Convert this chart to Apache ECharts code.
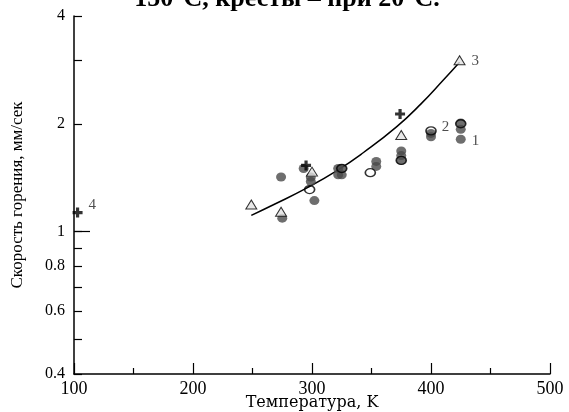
<!DOCTYPE html>
<html>
<head>
<meta charset="utf-8">
<script src="https://cdn.jsdelivr.net/npm/echarts@6/dist/echarts.min.js"></script>
<style>html,body{margin:0;padding:0;background:#fff}#c{width:569px;height:412px}</style>
</head>
<body>
<div id="c"></div>
<script>
// Data (T in K, burning rate in mm/s)
const filledCircles = [
  [274, 1.42], [275, 1.09], [293, 1.50], [299, 1.42], [299, 1.38], [302, 1.22],
  [322, 1.50], [322, 1.44], [325, 1.50], [325, 1.44],
  [354, 1.57], [354, 1.52], [375, 1.68], [375, 1.63], [375, 1.58],
  [400, 1.88], [400, 1.84], [425, 2.01], [425, 1.93], [425, 1.81]
];
const openCircles = [
  [298, 1.31], [325, 1.50], [349, 1.46], [375, 1.58], [400, 1.91], [425, 2.00]
];
const triangles = [
  [249, 1.19], [274, 1.136], [300, 1.47], [375, 1.86], [424, 3.01]
];
const crosses = [
  [103, 1.13], [295, 1.53], [374, 2.13]
];
const curve = [
  [249, 1.11], [268, 1.19], [295, 1.32], [321, 1.48], [343, 1.66],
  [371, 1.96], [392, 2.28], [410, 2.64], [424, 2.97]
];
const xTicks = [100, 200, 300, 400, 500];
const yTickValues = [0.4, 0.5, 0.6, 0.7, 0.8, 0.9, 1, 2, 3, 4];
const yLabelValues = [0.4, 0.6, 0.8, 1, 2, 4];
const titleText = '150°C, кресты – при 20°C.';
const xName = 'Температура, K';
const yName = 'Скорость горения, мм/сек';

const FONT = 'Liberation Serif';
const plus = 'path://M3.4,0H6.6V3.4H10V6.6H6.6V10H3.4V6.6H0V3.4H3.4Z';

function withLabel(arr, idx, text, pos, offset) {
  return arr.map((p, i) => i === idx ? {
    value: p,
    label: {show: true, formatter: text, position: pos, offset: offset || [0, 0],
            fontFamily: FONT, fontSize: 15, color: '#222'}
  } : p);
}

const chart = echarts.init(document.getElementById('c'), null, {renderer: 'canvas'});
const axisLine = {lineStyle: {color: '#000', width: 1.5}};
chart.setOption({
  animation: false,
  grid: {left: 74, right: 19, top: 16, bottom: 38, outerBoundsMode: 'none', containLabel: false},
  graphic: [{
    type: 'text',
    style: {text: titleText, x: 287, y: 12, textAlign: 'center', textVerticalAlign: 'bottom',
            font: 'bold 26px "Liberation Serif"', fill: '#000'}
  }],
  xAxis: {
    type: 'value', min: 100, max: 500, interval: 100,
    name: xName, nameLocation: 'middle', nameGap: 21, nameMoveOverlap: false,
    nameTextStyle: {fontFamily: 'DejaVu Serif', fontSize: 16, color: '#000'},
    axisLine: axisLine,
    axisTick: {inside: true, length: 11, lineStyle: {color: '#000', width: 1.2}},
    minorTick: {show: true, splitNumber: 2, length: 6, lineStyle: {color: '#000', width: 1.2}},
    axisLabel: {fontFamily: FONT, fontSize: 18, color: '#000', margin: 6},
    splitLine: {show: false}
  },
  yAxis: [{
    type: 'log', logBase: 10, min: 0.4, max: 4,
    name: yName, nameLocation: 'middle', nameGap: 48,
    nameTextStyle: {fontFamily: FONT, fontSize: 17, color: '#000'},
    axisLine: axisLine,
    axisTick: {inside: true, length: 8, customValues: yTickValues, lineStyle: {color: '#000', width: 1.2}},
    axisLabel: {fontFamily: FONT, fontSize: 16, color: '#000', margin: 9, customValues: yLabelValues,
                padding: [6, 0, 0, 0]},
    splitLine: {show: false}
  }, {
    type: 'log', logBase: 10, min: 0.4, max: 4, position: 'left',
    axisLine: {show: false},
    axisTick: {inside: true, length: 16, customValues: [1], lineStyle: {color: '#000', width: 1.2}},
    axisLabel: {show: false},
    splitLine: {show: false}
  }],
  series: [
    {type: 'line', data: curve, smooth: 0.5, showSymbol: false, z: 1,
     lineStyle: {color: '#000', width: 1.5}},
    {type: 'scatter', data: withLabel(filledCircles, 19, '1', 'right', [1, 2]), symbol: 'circle', symbolSize: [10, 9], z: 2,
     itemStyle: {color: '#4a4a4a'}},
    {type: 'scatter', data: withLabel(openCircles, 4, '2', 'right', [0, -4]), symbol: 'circle', symbolSize: [10, 8], z: 3,
     itemStyle: {color: 'rgba(0,0,0,0)', borderColor: '#000', borderWidth: 1.5}},
    {type: 'scatter', data: withLabel(triangles, 4, '3', 'right', [1, 1]), symbol: 'triangle', symbolSize: [11, 9], z: 4,
     itemStyle: {color: '#e2e2e2', borderColor: '#000', borderWidth: 1}},
    {type: 'scatter', data: withLabel(crosses, 0, '4', 'right', [1, -7]), symbol: plus, symbolSize: 10, z: 5,
     itemStyle: {color: '#000'}}
  ]
});
</script>
</body>
</html>
